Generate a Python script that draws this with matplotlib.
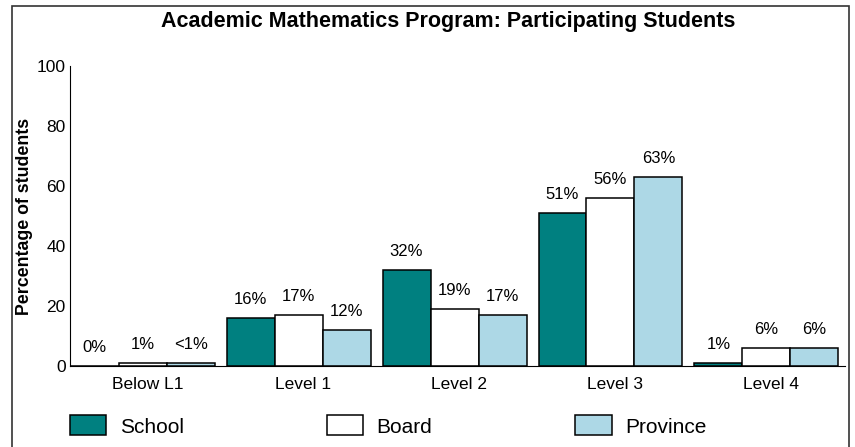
import numpy as np
import matplotlib
matplotlib.use('Agg')
import matplotlib.pyplot as plt
from matplotlib.patches import Rectangle

plt.rcParams['font.family'] = ['Liberation Sans', 'DejaVu Sans']

# data
levels = ['Below L1', 'Level 1', 'Level 2', 'Level 3', 'Level 4']
school = [0, 16, 32, 51, 1]
board = [1, 17, 19, 56, 6]
province = [1, 12, 17, 63, 6]
school_lbl = ['0%', '16%', '32%', '51%', '1%']
board_lbl = ['1%', '17%', '19%', '56%', '6%']
province_lbl = ['<1%', '12%', '17%', '63%', '6%']

c_school = '#008080'
c_board = '#ffffff'
c_prov = '#add8e6'

fig = plt.figure(figsize=(8.55, 4.47), dpi=100)
ax = fig.add_axes([70/855, 81/447, 775/855, 300/447])

x = np.arange(len(levels))
w = 0.3077
b1 = ax.bar(x - w, school, w, color=c_school, edgecolor='black', linewidth=1.1, label='School')
b2 = ax.bar(x, board, w, color=c_board, edgecolor='black', linewidth=1.1, label='Board')
b3 = ax.bar(x + w, province, w, color=c_prov, edgecolor='black', linewidth=1.1, label='Province')

ax.bar_label(b1, labels=school_lbl, padding=8, fontsize=12)
ax.bar_label(b2, labels=board_lbl, padding=8, fontsize=12)
ax.bar_label(b3, labels=province_lbl, padding=8, fontsize=12)

ax.set_xlim(-0.466, 4.504)
ax.set_ylim(0, 100)
ax.set_xticks(x + 0.03)
ax.set_xticklabels(levels)
ax.set_yticks(np.arange(0, 101, 20))
ax.tick_params(axis='both', length=0, labelsize=12.5)
ax.tick_params(axis='y', pad=3)
ax.tick_params(axis='x', pad=8)
ax.spines['top'].set_visible(False)
ax.spines['right'].set_visible(False)
ax.set_ylabel('Percentage of students', fontsize=12.8, fontweight='bold', labelpad=3)

fig.text(448/855, 1 - 21/447, 'Academic Mathematics Program: Participating Students',
         ha='center', va='center', fontsize=15.5, fontweight='bold')

fig.legend(handles=[b1, b2, b3], labels=['School', 'Board', 'Province'],
           loc='center left', bbox_to_anchor=(70/855, 1 - 426/447), ncol=3,
           frameon=False, fontsize=15, handlelength=1.75, handleheight=1.1,
           handletextpad=0.65, columnspacing=6.85, borderpad=0, borderaxespad=0)

# outer frame
fig.patches.append(Rectangle((12/855, -0.05), 837/855, 1.05 - 6/447, transform=fig.transFigure,
                             fill=False, edgecolor='#333333', linewidth=1.2))

fig.savefig('out.png', dpi=100)
